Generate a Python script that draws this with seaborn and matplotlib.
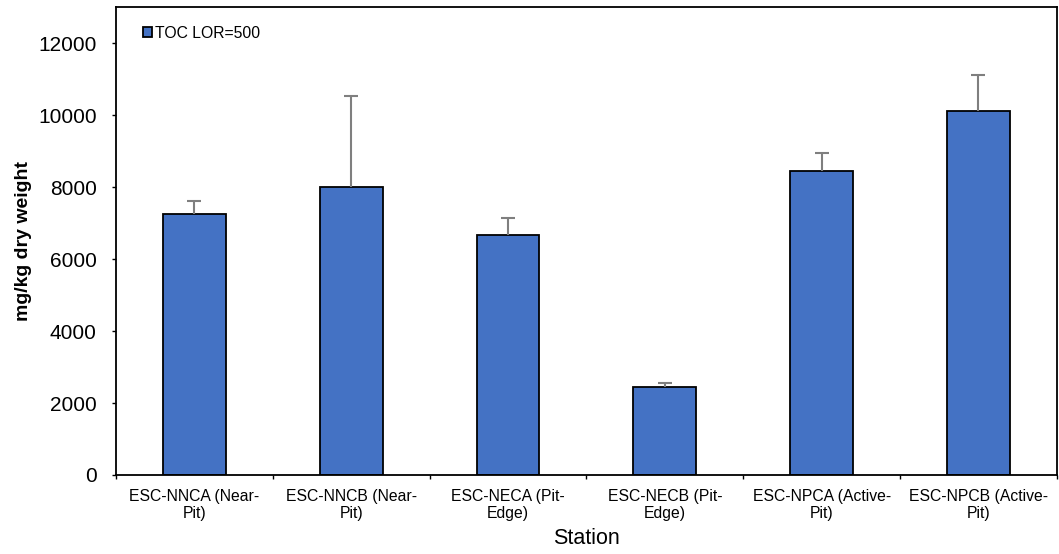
import numpy as np
import pandas as pd
import matplotlib
matplotlib.use("Agg")
import matplotlib.pyplot as plt
import seaborn as sns

# chart values
stations = ["ESC-NNCA (Near-\nPit)", "ESC-NNCB (Near-\nPit)", "ESC-NECA (Pit-\nEdge)",
            "ESC-NECB (Pit-\nEdge)", "ESC-NPCA (Active-\nPit)", "ESC-NPCB (Active-\nPit)"]
toc = [7250, 8000, 6680, 2440, 8440, 10110]
toc_err = [360, 2540, 460, 110, 500, 1000]
y_ticks = [0, 2000, 4000, 6000, 8000, 10000, 12000]

df = pd.DataFrame({"Station": stations, "TOC": toc, "err": toc_err})

sns.set_theme(style="white")
plt.rcParams["font.family"] = ["Liberation Sans", "DejaVu Sans"]
plt.rcParams["text.color"] = "black"
plt.rcParams["axes.labelcolor"] = "black"
plt.rcParams["xtick.color"] = "black"
plt.rcParams["ytick.color"] = "black"

fig = plt.figure(figsize=(10.59, 5.54), dpi=100)
ax = fig.add_axes([0.1095, 0.1426, 0.8885, 0.8444])

sns.barplot(data=df, x="Station", y="TOC", color="#4472C4", edgecolor="black",
            linewidth=1.3, width=0.4, saturation=1, errorbar=None,
            label="TOC LOR=500", ax=ax)

# upper-only error bars
xpos = np.arange(len(stations))
eb = ax.errorbar(xpos, df["TOC"], yerr=[np.zeros(len(stations)), df["err"]],
                 fmt="none", ecolor="#7f7f7f", elinewidth=1.5, capsize=5, capthick=1.5,
                 zorder=1)
eb[1][0].set_visible(False)

ax.set_xlim(-0.5, len(stations) - 0.5)
ax.set_ylim(0, 13000)
ax.set_yticks(y_ticks)
ax.set_xticks(np.arange(len(stations) + 1) - 0.5, minor=True)
ax.tick_params(axis="x", which="major", length=0, labelsize=11.3, pad=10)
ax.tick_params(axis="x", which="minor", length=3, width=1, direction="out", bottom=True)
ax.tick_params(axis="y", length=3, width=1, direction="out", left=True, labelsize=15, pad=11)

for s in ax.spines.values():
    s.set_color("black")
    s.set_linewidth(1.3)

ax.set_xlabel("Station", fontsize=15.5, labelpad=5)
ax.set_ylabel("mg/kg dry weight", fontsize=14, fontweight="bold", labelpad=4)

leg = ax.legend(loc="upper left", frameon=False, fontsize=11.3, handlelength=0.55,
                handleheight=0.55, handletextpad=0.2, borderaxespad=0.0,
                bbox_to_anchor=(0.022, 0.974))

fig.savefig("out.png", dpi=100)
